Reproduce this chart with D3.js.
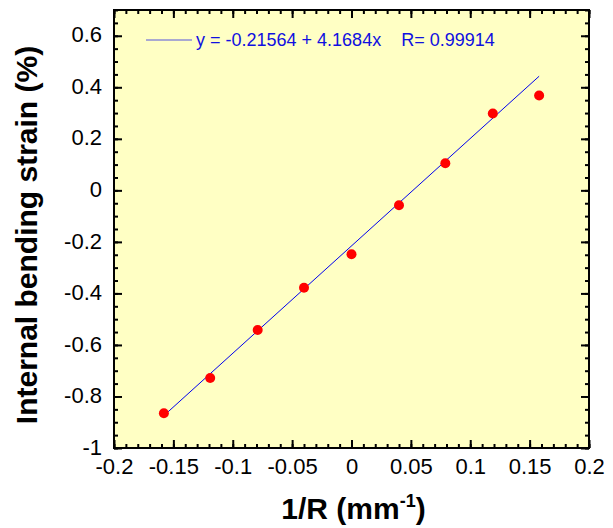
<!DOCTYPE html>
<html><head><meta charset="utf-8">
<script src="https://cdn.jsdelivr.net/npm/d3@7"></script>
<style>body{margin:0;background:#fff;} text{font-family:"Liberation Sans",Arial,sans-serif;}</style>
</head><body>
<svg id="c" width="613" height="528"></svg>
<script>
const xValues = [-0.158, -0.119, -0.079, -0.04, 0, 0.04, 0.079, 0.119, 0.158];
const yValues = [-0.865, -0.728, -0.542, -0.378, -0.248, -0.058, 0.105, 0.298, 0.368];
const fitIntercept = -0.21564, fitSlope = 4.1684;
const xTicks = [-0.2, -0.15, -0.1, -0.05, 0, 0.05, 0.1, 0.15, 0.2];
const xTickLabels = ["-0.2", "-0.15", "-0.1", "-0.05", "0", "0.05", "0.1", "0.15", "0.2"];
const yTicks = [-1, -0.8, -0.6, -0.4, -0.2, 0, 0.2, 0.4, 0.6];
const yTickLabels = ["-1", "-0.8", "-0.6", "-0.4", "-0.2", "0", "0.2", "0.4", "0.6"];
const legendText = "y = -0.21564 + 4.1684x    R= 0.99914";

const svg = d3.select("#c");
const L = 114, R = 589, T = 10, B = 448;
const x = d3.scaleLinear().domain([-0.2, 0.2]).range([L, R]);
const y = d3.scaleLinear().domain([-1, 0.7]).range([B, T]);

svg.append("rect").attr("x", L).attr("y", T).attr("width", R - L).attr("height", B - T).attr("fill", "#ffffc4");

const xMinor = d3.range(-0.2, 0.2001, 0.01).map(v => +v.toFixed(3));
const yMinor = d3.range(-1, 0.7001, 0.05).map(v => +v.toFixed(3));

function axis(gen, tr, major, minor, labels, showLabels, pad) {
  const g = svg.append("g").attr("transform", tr);
  g.call(gen.tickValues(minor).tickSize(-4).tickFormat(""));
  const g2 = svg.append("g").attr("transform", tr);
  g2.call(gen.tickValues(major).tickSize(-8).tickPadding(pad)
    .tickFormat((d, i) => showLabels ? labels[i] : ""));
  [g, g2].forEach(gg => {
    gg.attr("font-size", null).attr("font-family", null);
    gg.select(".domain").remove();
    gg.selectAll("line").attr("stroke", "#000").attr("stroke-width", 2);
    gg.selectAll("text").attr("font-size", 22).attr("fill", "#000");
  });
  return g2;
}
axis(d3.axisBottom(x), `translate(0,${B})`, xTicks, xMinor, xTickLabels, true, 10);
axis(d3.axisTop(x), `translate(0,${T})`, xTicks, xMinor, xTickLabels, false, 0);
const yg = axis(d3.axisLeft(y), `translate(${L},0)`, yTicks, yMinor, yTickLabels, true, 12);
yg.selectAll("text").attr("dy", "0.28em");
axis(d3.axisRight(y), `translate(${R},0)`, yTicks, yMinor, yTickLabels, false, 0);

svg.append("rect").attr("x", L).attr("y", T).attr("width", R - L).attr("height", B - T)
  .attr("fill", "none").attr("stroke", "#000").attr("stroke-width", 2);

// fit line
const xf = d3.extent(xValues);
svg.append("line")
  .attr("x1", x(xf[0])).attr("y1", y(fitIntercept + fitSlope * xf[0]))
  .attr("x2", x(xf[1])).attr("y2", y(fitIntercept + fitSlope * xf[1]))
  .attr("stroke", "#0000ee").attr("stroke-width", 1);

svg.selectAll("circle.pt").data(xValues).enter().append("circle")
  .attr("class", "pt")
  .attr("cx", d => x(d)).attr("cy", (d, i) => y(yValues[i]))
  .attr("r", 5).attr("fill", "#ff0000");

// legend
svg.append("line").attr("x1", 146).attr("x2", 192).attr("y1", 40).attr("y2", 40)
  .attr("stroke", "#5555dd").attr("stroke-width", 1);
svg.append("text").attr("x", 196).attr("y", 46).attr("font-size", 18).attr("fill", "#1010e0")
  .attr("xml:space", "preserve").style("white-space", "pre").text(legendText);

// axis titles
svg.append("text").attr("x", (L + R) / 2 + 2).attr("y", 519).attr("text-anchor", "middle")
  .attr("font-size", 30).attr("font-weight", "bold").attr("fill", "#000")
  .html('1/R (mm<tspan dy="-12" font-size="18">-1</tspan><tspan dy="12">)</tspan>');
svg.append("text").attr("transform", `translate(37,235) rotate(-90)`).attr("text-anchor", "middle")
  .attr("font-size", 30).attr("font-weight", "bold").attr("fill", "#000")
  .text("Internal bending strain (%)");
</script>
</body></html>
